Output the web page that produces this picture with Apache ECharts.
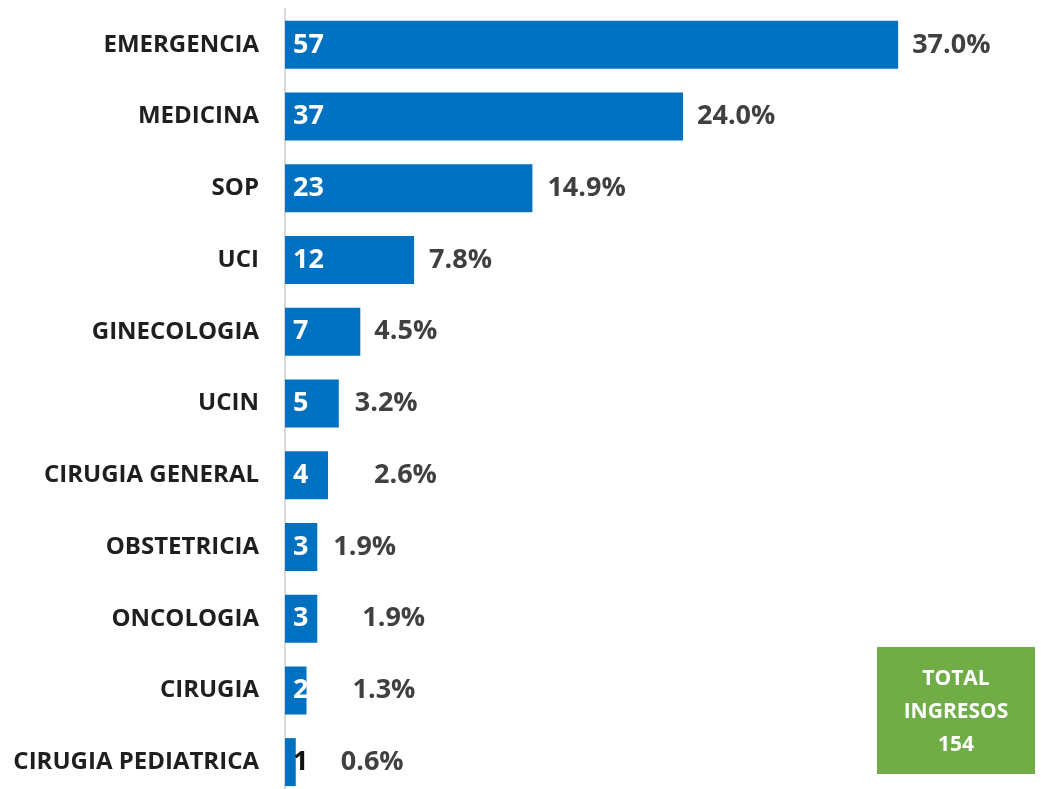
<!DOCTYPE html>
<html>
<head>
<meta charset="utf-8">
<script src="https://cdn.jsdelivr.net/npm/echarts@6/dist/echarts.min.js"></script>
<style>
  html, body { margin: 0; padding: 0; background: #fff; }
  #chart { width: 1041px; height: 789px; }
</style>
</head>
<body>
<div id="chart"></div>
<script>
const categories = [
  'EMERGENCIA', 'MEDICINA', 'SOP', 'UCI', 'GINECOLOGIA', 'UCIN',
  'CIRUGIA GENERAL', 'OBSTETRICIA', 'ONCOLOGIA', 'CIRUGIA', 'CIRUGIA PEDIATRICA'
];
const ingresos = [57, 37, 23, 12, 7, 5, 4, 3, 3, 2, 1];
// gap between bar end and its % label (hand placed in the original)
const pctGap = [14, 14, 15, 15, 14, 16, 46, 16, 45, 46, 45];

const total = ingresos.reduce((a, b) => a + b, 0);
const font = '"Open Sans", "DejaVu Sans", sans-serif';

const chart = echarts.init(document.getElementById('chart'));

chart.setOption({
  animation: false,
  grid: { left: 285, right: 3, top: 9, bottom: -9, outerBoundsMode: 'none', containLabel: false },
  xAxis: {
    type: 'value',
    min: 0,
    max: 70,
    show: false
  },
  yAxis: {
    type: 'category',
    data: categories,
    inverse: true,
    axisLine: { show: true, lineStyle: { color: '#d9d9d9', width: 2 } },
    axisTick: { show: false },
    axisLabel: {
      margin: 26,
      fontFamily: font,
      fontWeight: 'bold',
      fontSize: 24,
      color: '#1f1f1f'
    }
  },
  series: [
    {
      type: 'bar',
      barWidth: 48,
      data: ingresos.map(v => ({
        value: v,
        label: { color: v < 2 ? '#111' : '#fff' }
      })),
      itemStyle: { color: '#0070c0' },
      label: {
        show: true,
        position: 'insideLeft',
        distance: 8,
        fontFamily: font,
        fontWeight: 'bold',
        fontSize: 27
      }
    },
    {
      type: 'bar',
      barWidth: 48,
      barGap: '-100%',
      data: ingresos.map((v, i) => ({
        value: v,
        label: { distance: pctGap[i] }
      })),
      itemStyle: { color: 'rgba(0,0,0,0)' },
      silent: true,
      label: {
        show: true,
        position: 'right',
        fontFamily: font,
        fontWeight: 'bold',
        fontSize: 27,
        color: '#404040',
        formatter: p => (p.value / total * 100).toFixed(1) + '%'
      }
    }
  ],
  graphic: [
    {
      type: 'group',
      left: 877,
      top: 647,
      children: [
        {
          type: 'rect',
          shape: { x: 0, y: 0, width: 158, height: 127 },
          style: { fill: '#70ad47' }
        },
        {
          type: 'text',
          x: 79,
          y: 65,
          style: {
            text: 'TOTAL\nINGRESOS\n' + total,
            fill: '#fff',
            font: 'bold 21px ' + font,
            lineHeight: 33,
            align: 'center',
            verticalAlign: 'middle'
          }
        }
      ]
    }
  ]
});
</script>
</body>
</html>
